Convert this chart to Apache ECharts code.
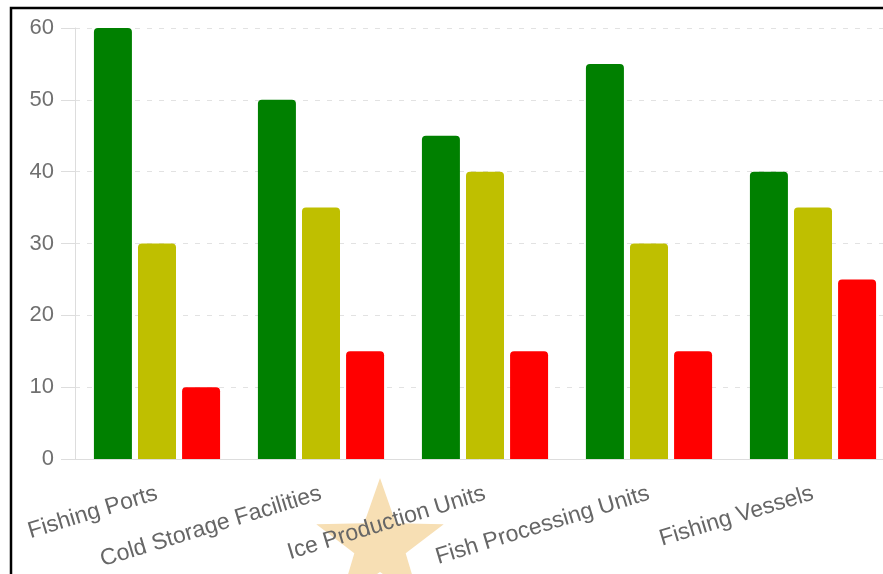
<!DOCTYPE html>
<html>
<head>
<meta charset="utf-8">
<script src="https://cdn.jsdelivr.net/npm/echarts@6/dist/echarts.min.js"></script>
<style>
  html, body { margin: 0; padding: 0; background: #fff; }
  #chart { width: 883px; height: 574px; }
</style>
</head>
<body>
<div id="chart"></div>
<script>
// Infrastructure categories along the x axis
const categories = ['Fishing Ports', 'Cold Storage Facilities', 'Ice Production Units', 'Fish Processing Units', 'Fishing Vessels'];

// Three condition groups per category
const goodValues = [60, 50, 45, 55, 40];
const fairValues = [30, 35, 40, 30, 35];
const poorValues = [10, 15, 15, 15, 25];

// Value axis ticks
const yTicks = [0, 10, 20, 30, 40, 50, 60];

const seriesNames = ['Good', 'Fair', 'Poor'];
const seriesColors = ['#008000', '#bfbf00', '#ff0000'];

// Five-pointed star outline, built from a centre and two radii
function starPoints(cx, cy, outer, inner) {
  const pts = [];
  for (let i = 0; i < 10; i++) {
    const r = i % 2 === 0 ? outer : inner;
    const a = -Math.PI / 2 + i * Math.PI / 5;
    pts.push([cx + r * Math.cos(a), cy + r * Math.sin(a)]);
  }
  return pts;
}

const chart = echarts.init(document.getElementById('chart'));

function makeSeries(name, values, color) {
  return {
    name: name,
    type: 'bar',
    data: values,
    barWidth: 38,
    barGap: '16%',
    itemStyle: { color: color, borderRadius: [4, 4, 0, 0] },
    z: 3
  };
}

chart.setOption({
  animation: false,
  backgroundColor: '#ffffff',
  // plot area runs past the right edge of the canvas
  grid: { left: 75, width: 820, top: 28, bottom: 115, containLabel: false, outerBoundsMode: 'none' },
  xAxis: {
    type: 'category',
    data: categories,
    axisLine: { show: true, lineStyle: { color: '#dddddd', width: 1 } },
    axisTick: { show: false },
    axisLabel: {
      interval: 0,
      rotate: 17,
      margin: 34,
      fontFamily: 'Liberation Sans, Arial, sans-serif',
      fontSize: 23,
      color: '#666666'
    },
    splitLine: { show: false }
  },
  yAxis: {
    type: 'value',
    min: yTicks[0],
    max: yTicks[yTicks.length - 1],
    interval: yTicks[1] - yTicks[0],
    axisLine: { show: true, lineStyle: { color: '#dddddd', width: 1 } },
    axisTick: { show: true, length: 14, lineStyle: { color: '#dddddd' } },
    axisLabel: {
      margin: 21,
      fontFamily: 'Liberation Sans, Arial, sans-serif',
      fontSize: 22,
      color: '#707070'
    },
    splitLine: { show: true, lineStyle: { color: '#e2e2e2', width: 1, type: [5, 7] } }
  },
  graphic: [
    {
      type: 'polygon',
      z: 0,
      silent: true,
      shape: { points: starPoints(380, 545, 67, 27) },
      style: { fill: '#f7dfb4' }
    },
    {
      type: 'rect',
      z: 10,
      silent: true,
      shape: { x: 11, y: 8, width: 900, height: 600 },
      style: { fill: 'none', stroke: '#000000', lineWidth: 2.5 }
    }
  ],
  series: [
    makeSeries(seriesNames[0], goodValues, seriesColors[0]),
    makeSeries(seriesNames[1], fairValues, seriesColors[1]),
    makeSeries(seriesNames[2], poorValues, seriesColors[2])
  ]
});
</script>
</body>
</html>
